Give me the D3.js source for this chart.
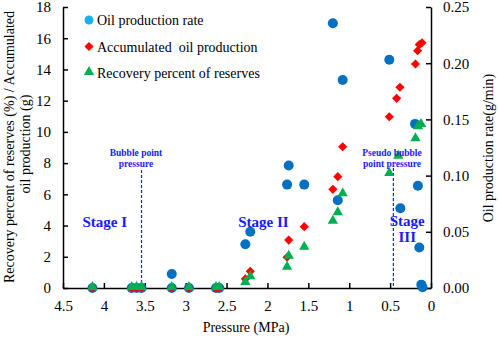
<!DOCTYPE html>
<html>
<head>
<meta charset="utf-8">
<script src="https://cdn.jsdelivr.net/npm/d3@7"></script>
<style>
  body { margin: 0; background: #fff; }
  svg text { font-family: "Liberation Serif", "DejaVu Serif", serif; }
  .axis path, .axis line { stroke: #000; stroke-width: 1.5; }
  .axis text { font-size: 15px; fill: #000; }
</style>
</head>
<body>
<div id="chart"></div>
<script>
// pressure (MPa) and values
const ratePressure = [4.14, 3.66, 3.60, 3.54, 3.17, 3.17, 2.96, 2.63, 2.59, 2.27, 2.21, 1.76, 1.74, 1.55, 1.20, 1.14, 1.08, 0.51, 0.375, 0.195, 0.16, 0.143, 0.118, 0.103];
const rateValues   = [0, 0, 0, 0, 0.0125, 0, 0, 0, 0, 0.039, 0.050, 0.092, 0.109, 0.092, 0.2355, 0.078, 0.185, 0.203, 0.071, 0.146, 0.091, 0.036, 0.003, 0.0006];

const accPressure = [4.14, 3.66, 3.60, 3.54, 3.17, 2.96, 2.63, 2.59, 2.27, 2.21, 1.76, 1.74, 1.55, 1.20, 1.14, 1.08, 0.51, 0.42, 0.38, 0.19, 0.164, 0.143, 0.11];
const accValues   = [0, 0, 0, 0, 0, 0, 0, 0, 0.58, 1.07, 1.97, 3.07, 3.93, 6.32, 7.13, 9.05, 10.97, 12.15, 12.86, 14.35, 15.2, 15.59, 15.71];

const recPressure = [4.14, 3.66, 3.60, 3.54, 3.17, 2.96, 2.63, 2.59, 2.27, 2.21, 1.76, 1.74, 1.55, 1.20, 1.14, 1.08, 0.51, 0.40, 0.19, 0.159, 0.122];
const recValues   = [0, 0, 0, 0, 0, 0, 0, 0, 0.32, 0.69, 1.30, 2.0, 2.58, 4.25, 4.79, 6.0, 7.30, 8.41, 9.53, 10.29, 10.44];

const xTicks = [4.5, 4, 3.5, 3, 2.5, 2, 1.5, 1, 0.5, 0];
const leftTicks = [0, 2, 4, 6, 8, 10, 12, 14, 16, 18];
const rightTicks = [0, 0.05, 0.10, 0.15, 0.20, 0.25];

const legendLabels = ["Oil production rate", "Accumulated\u00a0 oil production", "Recovery percent of reserves"];
const stageLabels = [
  {p: 3.99, y: 4.2, lines: ["Stage I"]},
  {p: 2.05, y: 4.2, lines: ["Stage II"]},
  {p: 0.29, y: 4.3, lines: ["Stage", "III"]}
];
const bubbleP = 3.54, pseudoP = 0.46;

const FONT = '"Liberation Serif", "DejaVu Serif", serif';
const width = 498, height = 337;
const svg = d3.select("#chart").append("svg")
  .attr("width", width).attr("height", height)
  .attr("font-family", FONT);

const x = d3.scaleLinear().domain([4.5, 0]).range([63, 431]);
const yL = d3.scaleLinear().domain([0, 18]).range([288, 7]);
const yR = d3.scaleLinear().domain([0, 0.25]).range([288, 7]);

// axes
svg.append("g").attr("class", "axis")
  .attr("transform", "translate(0,288)")
  .call(d3.axisBottom(x).tickValues(xTicks).tickSizeInner(-5).tickSizeOuter(0).tickPadding(12).tickFormat(d3.format("")))
  .attr("font-family", FONT);

svg.append("g").attr("class", "axis")
  .attr("transform", "translate(63,0)")
  .call(d3.axisLeft(yL).tickValues(leftTicks).tickSizeInner(-5).tickSizeOuter(0).tickPadding(12))
  .attr("font-family", FONT);

svg.append("g").attr("class", "axis")
  .attr("transform", "translate(431,0)")
  .call(d3.axisRight(yR).tickValues(rightTicks).tickSizeInner(-5).tickSizeOuter(0).tickPadding(12).tickFormat(d3.format(".2f")))
  .attr("font-family", FONT);

// axis titles
svg.append("text").attr("x", 246).attr("y", 332).attr("text-anchor", "middle")
  .style("font-size", "14px").text("Pressure (MPa)");

svg.append("text").attr("transform", "translate(14,147) rotate(-90)")
  .attr("text-anchor", "middle").style("font-size", "14px")
  .text("Recovery percent of reserves (%) / Accumulated");
svg.append("text").attr("transform", "translate(30,144) rotate(-90)")
  .attr("text-anchor", "middle").style("font-size", "14px")
  .text("oil production (g)");

svg.append("text").attr("transform", "translate(493,148) rotate(-90)")
  .attr("text-anchor", "middle").style("font-size", "14px")
  .text("Oil production rate(g/min)");

// dashed pressure lines and their notes
const notes = [
  {p: bubbleP, top: 170, tx: 136, lines: ["Bubble point", "pressure"]},
  {p: pseudoP, top: 168, tx: 392, lines: ["Pseudo bubble", "point pressure"]}
];
notes.forEach(n => {
  svg.append("line")
    .attr("x1", x(n.p)).attr("x2", x(n.p))
    .attr("y1", n.top).attr("y2", 288)
    .attr("stroke", "#1a1aff").attr("stroke-width", 1.2)
    .attr("stroke-dasharray", "3,2");
});

// markers
const circles = ratePressure.map((p, i) => ({p, v: rateValues[i]}));
const diamonds = accPressure.map((p, i) => ({p, v: accValues[i]}));
const triangles = recPressure.map((p, i) => ({p, v: recValues[i]}));

const diamond = d3.symbol().type(d3.symbolSquare).size(42)();
const tri = d3.symbol().type(d3.symbolTriangle).size(46)();

svg.append("g").selectAll("circle").data(circles).join("circle")
  .attr("cx", d => x(d.p)).attr("cy", d => yR(d.v)).attr("r", 5)
  .attr("fill", "#0070c0");

svg.append("g").selectAll("path").data(diamonds).join("path")
  .attr("d", diamond)
  .attr("transform", d => `translate(${x(d.p)},${yL(d.v)}) rotate(45)`)
  .attr("fill", "#ff0000");

svg.append("g").selectAll("path").data(triangles).join("path")
  .attr("d", tri)
  .attr("transform", d => `translate(${x(d.p)},${yL(d.v) - 1})`)
  .attr("fill", "#00b050");

// notes text drawn over markers
notes.forEach(n => {
  n.lines.forEach((t, i) => {
    svg.append("text").attr("x", n.tx).attr("y", 156 + i * 11)
      .attr("text-anchor", "middle")
      .style("font-size", "9.5px").style("font-weight", "bold")
      .attr("fill", "#1a1aff").text(t);
  });
});

// stage labels
stageLabels.forEach(s => {
  s.lines.forEach((t, i) => {
    svg.append("text").attr("x", x(s.p)).attr("y", yL(s.y) + 5 + i * 16)
      .attr("text-anchor", "middle")
      .style("font-size", "15px").style("font-weight", "bold")
      .attr("fill", "#1a1aff").text(t);
  });
});

// legend
const legendColors = ["#1ab0f0", "#ff0000", "#00b050"];
const legend = svg.append("g");
legendLabels.forEach((t, i) => {
  const ly = 20 + i * 26.5;
  if (i === 0) {
    legend.append("circle").attr("cx", 89).attr("cy", ly).attr("r", 4.5).attr("fill", legendColors[i]);
  } else if (i === 1) {
    legend.append("path").attr("d", diamond).attr("transform", `translate(89,${ly}) rotate(45)`).attr("fill", legendColors[i]);
  } else {
    legend.append("path").attr("d", tri).attr("transform", `translate(89,${ly - 1})`).attr("fill", legendColors[i]);
  }
  legend.append("text").attr("x", 97).attr("y", ly + 5)
    .style("font-size", "14px").text(t);
});
</script>
</body>
</html>
